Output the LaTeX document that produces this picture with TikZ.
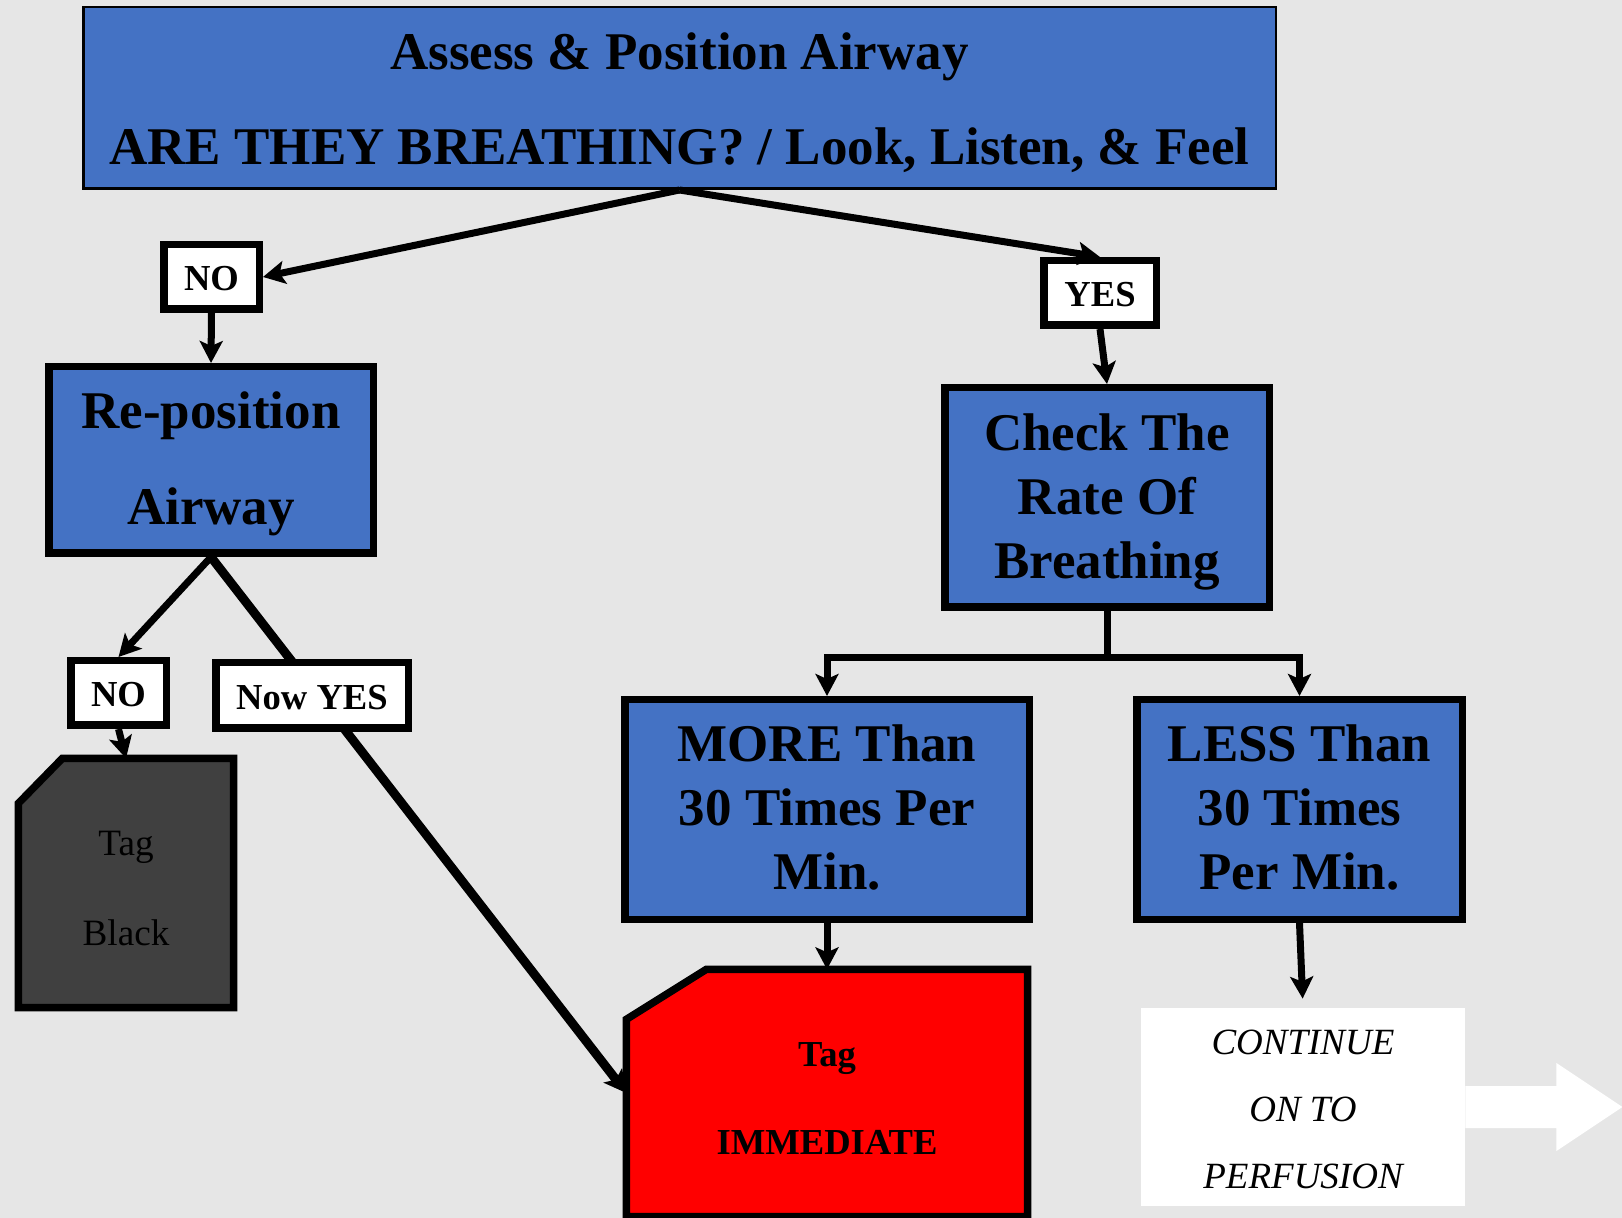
\documentclass[tikz,border=0pt]{standalone}
\usepackage{fontspec}
\setmainfont{Liberation Serif}
\usepackage{tikz}
\usetikzlibrary{arrows.meta, calc}
\definecolor{boxblue}{RGB}{68,114,196}
\definecolor{tagred}{RGB}{255,0,0}
\definecolor{tagblack}{RGB}{64,64,64}
\definecolor{backgray}{RGB}{230,230,230}
\pgfdeclarelayer{bg}
\pgfdeclarelayer{tags}
\pgfsetlayers{bg,tags,main}
\newcommand{\padtop}[1]{\rule{0pt}{#1}}
\newcommand{\padbottom}[1]{\rule[-#1]{0pt}{#1}}
\tikzstyle{headbox} = [rectangle, draw=black, line width=1.25pt, fill=boxblue, inner sep=0pt, align=center, font=\bfseries\fontsize{26.5}{47.5}\selectfont]
\tikzstyle{process} = [rectangle, draw=black, line width=3.75pt, fill=boxblue, inner sep=0pt, align=center, font=\bfseries\fontsize{26.5}{32}\selectfont]
\tikzstyle{answer} = [rectangle, draw=black, line width=3.75pt, fill=white, inner sep=0pt, execute at begin node={\rule{0pt}{14pt}}, font=\bfseries\fontsize{18.3}{22}\selectfont]
\tikzstyle{tagshape} = [rectangle, inner sep=0pt, align=center]
\tikzstyle{tagline} = [draw=black, line width=3.75pt, line join=miter]
\tikzstyle{arrow} = [line width=3.5pt, -{Stealth[length=11pt, width=11.5pt, inset=2.5pt]}]

\begin{document}
\begin{tikzpicture}[x=0.5pt, y=-0.5pt]
\useasboundingbox (0,0) rectangle (1622,1218);
\begin{pgfonlayer}{bg}
\fill [backgray] (0,0) rectangle (1622,1218);
\end{pgfonlayer}

\node (assess) [headbox, minimum width=596.25pt, minimum height=90.75pt] at (679.5,98) {\padtop{22.8pt}Assess \& Position Airway\\ARE THEY BREATHING? / Look, Listen, \& Feel};

\node (noA) [answer, minimum width=47.75pt, minimum height=32.25pt] at (211.5,277) {NO};
\node (yesA) [answer, minimum width=56.25pt, minimum height=32.25pt] at (1100,293) {YES};

\node (repos) [process, font=\bfseries\fontsize{26.5}{48}\selectfont, minimum width=162.25pt, minimum height=93.25pt] at (211,460) {\padtop{22.6pt}Re-position\\Airway};
\node (check) [process, minimum width=162.25pt, minimum height=109.75pt] at (1107,497.5) {\padtop{22.6pt}Check The\\Rate Of\\Breathing};

\node (noB) [answer, minimum width=47.75pt, minimum height=32.25pt] at (118.5,693) {NO};

\node (more) [process, minimum width=202.25pt, minimum height=109.75pt] at (827,809.5) {MORE Than\\30 Times Per\\Min.\padbottom{2pt}};
\node (less) [process, minimum width=162.75pt, minimum height=109.75pt] at (1299.5,809.5) {LESS Than\\30 Times\\Per Min.\padbottom{2pt}};

\node (black) [tagshape, minimum width=107.25pt, minimum height=124.25pt, font=\fontsize{18.6}{45}\selectfont] at (126,883) {\padtop{17.3pt}Tag\\Black};
\node (immediate) [tagshape, minimum width=200.25pt, minimum height=123.25pt, font=\bfseries\fontsize{18.3}{44}\selectfont] at (827,1093) {\padtop{17.1pt}Tag\\IMMEDIATE};
\node (cont) [rectangle, fill=white, inner sep=0pt, minimum width=162pt, minimum height=99pt, align=center, font=\itshape\fontsize{18.5}{33.5}\selectfont] at (1303,1107) {\padtop{14.3pt}CONTINUE\\ON TO\\PERFUSION};

\begin{pgfonlayer}{tags}
\draw [tagline, fill=tagblack] (black.south west) -- ($(black.north west)+(0,45)$) -- ($(black.north west)+(44,0)$) -- (black.north east) -- (black.south east) -- cycle;
\draw [tagline, fill=tagred] (immediate.south west) -- ($(immediate.north west)+(0,50)$) -- ($(immediate.north west)+(80,0)$) -- (immediate.north east) -- (immediate.south east) -- cycle;
\end{pgfonlayer}

\draw [arrow] (assess.south) -- (noA.east);
\draw [arrow] (assess.south) -- (yesA.north);
\draw [arrow] (noA.south) -- (repos.north);
\draw [arrow] (yesA.south) -- (check.north);
\draw [arrow] (repos.south) -- (noB.north);
\draw [arrow] (noB.south) -- (black.north);
\draw [arrow, line width=4.5pt] (repos.south) -- (immediate.west);
\node (nowyes) [answer, minimum width=96.25pt, minimum height=32.75pt] at (312,695.5) {Now YES};

\coordinate (split) at ($(check.south)+(0,47)$);
\draw [line width=3.5pt] (check.south) -- (split);
\draw [arrow] (split) -| (more.north);
\draw [arrow] (split) -| (less.north);
\draw [arrow] (more.south) -- (immediate.north);
\draw [arrow, shorten >=4.5pt] (less.south) -- (cont.north);

\fill [white] ($(cont.east)+(0,-21)$) -- ++(91,0) -- ++(0,-23) -- ++(66,44) -- ++(-66,44) -- ++(0,-23) -- ++(-91,0) -- cycle;

\end{tikzpicture}
\end{document}
